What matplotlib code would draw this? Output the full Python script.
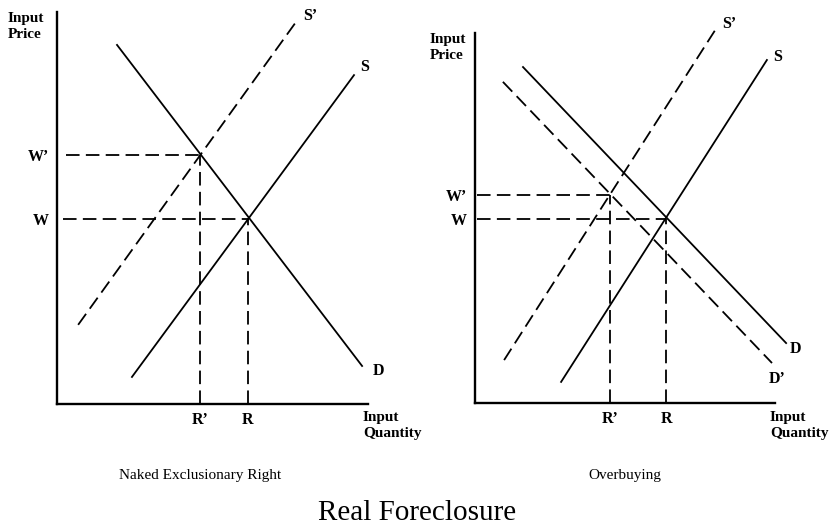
import matplotlib.pyplot as plt

plt.rcParams['font.family'] = ['Liberation Serif', 'DejaVu Serif']

# Left panel: Naked Exclusionary Right (quantity, price in 0-100 units)
left_D = ([19.3, 98.1], [91.6, 9.7])
left_S = ([24.1, 95.5], [6.9, 83.9])
left_Sp = ([6.8, 76.8], [20.2, 97.4])
left_eq_w = (61.4, 47.2)
left_eq_wp = (46.0, 63.5)
left_hstart = [3.0, 2.0]

# Right panel: Overbuying
right_D = ([16.0, 103.7], [90.8, 16.2])
right_Dp = ([9.3, 99.0], [86.8, 10.8])
right_S = ([28.7, 97.3], [5.7, 92.7])
right_Sp = ([9.7, 80.7], [11.6, 101.6])
right_eq_w = (63.7, 49.7)
right_eq_wp = (45.0, 56.2)
right_hstart = [0.7, 0.7]

DASH = (0, (7.5, 3.5))
fig = plt.figure(figsize=(8.34, 5.31), dpi=100)


def panel(rect, solid, dashed, eq_w, eq_wp, hstart, labels):
    ax = fig.add_axes(rect)
    ax.set_xlim(0, 100)
    ax.set_ylim(0, 100)
    for s in ['top', 'right']:
        ax.spines[s].set_visible(False)
    for s in ['left', 'bottom']:
        ax.spines[s].set_linewidth(1.7)
    for xs, ys in solid:
        ax.plot(xs, ys, color='black', lw=1.3, clip_on=False)
    for xs, ys in dashed:
        ax.plot(xs, ys, color='black', lw=1.3, linestyle=DASH, clip_on=False)
    # guide lines to the axes
    ax.plot([hstart[0], eq_wp[0]], [eq_wp[1], eq_wp[1]], color='black', lw=1.3, linestyle=DASH)
    ax.plot([hstart[1], eq_w[0]], [eq_w[1], eq_w[1]], color='black', lw=1.3, linestyle=DASH)
    ax.plot([eq_wp[0], eq_wp[0]], [0, eq_wp[1]], color='black', lw=1.3, linestyle=DASH)
    ax.plot([eq_w[0], eq_w[0]], [0, eq_w[1]], color='black', lw=1.3, linestyle=DASH)

    ax.set_yticks([eq_wp[1], eq_w[1]], ['W\u2019', 'W'])
    ax.set_xticks([eq_wp[0], eq_w[0]], ['R\u2019', 'R'])
    ax.tick_params(length=0, labelsize=11.5, pad=6)
    for t in ax.get_xticklabels() + ax.get_yticklabels():
        t.set_fontweight('bold')

    for txt, x, y, ha, va in labels:
        ax.text(x, y, txt, ha=ha, va=va, fontsize=11.5, fontweight='bold', clip_on=False)
    return ax


panel([57 / 834, 1 - 404 / 531, 311 / 834, 392 / 531],
      [left_D, left_S], [left_Sp], left_eq_w, left_eq_wp, left_hstart,
      [('S\u2019', 79, 99, 'left', 'center'),
       ('S', 97.5, 86, 'left', 'center'),
       ('D', 101.5, 8.5, 'left', 'center')])

panel([475 / 834, 1 - 403 / 531, 300 / 834, 370 / 531],
      [right_D, right_S], [right_Dp, right_Sp], right_eq_w, right_eq_wp, right_hstart,
      [('S\u2019', 82.5, 102.5, 'left', 'center'),
       ('S', 99.5, 93.5, 'left', 'center'),
       ('D', 105, 14.5, 'left', 'center'),
       ('D\u2019', 98, 6.5, 'left', 'center')])

# axis names and captions
lab = dict(fontsize=11, fontweight='bold', linespacing=1.3, va='top', ha='left')
fig.text(8 / 834, 1 - 12 / 531, 'Input\nPrice', **lab)
fig.text(430 / 834, 1 - 33 / 531, 'Input\nPrice', **lab)
fig.text(363 / 834, 1 - 411 / 531, 'Input\nQuantity', **lab)
fig.text(770 / 834, 1 - 411 / 531, 'Input\nQuantity', **lab)

fig.text(200 / 834, 1 - 475 / 531, 'Naked Exclusionary Right', ha='center', va='center', fontsize=11)
fig.text(625 / 834, 1 - 475 / 531, 'Overbuying', ha='center', va='center', fontsize=11)
fig.text(0.5, 1 - 513 / 531, 'Real Foreclosure', ha='center', va='center', fontsize=21)

fig.savefig('out.png', dpi=100)
